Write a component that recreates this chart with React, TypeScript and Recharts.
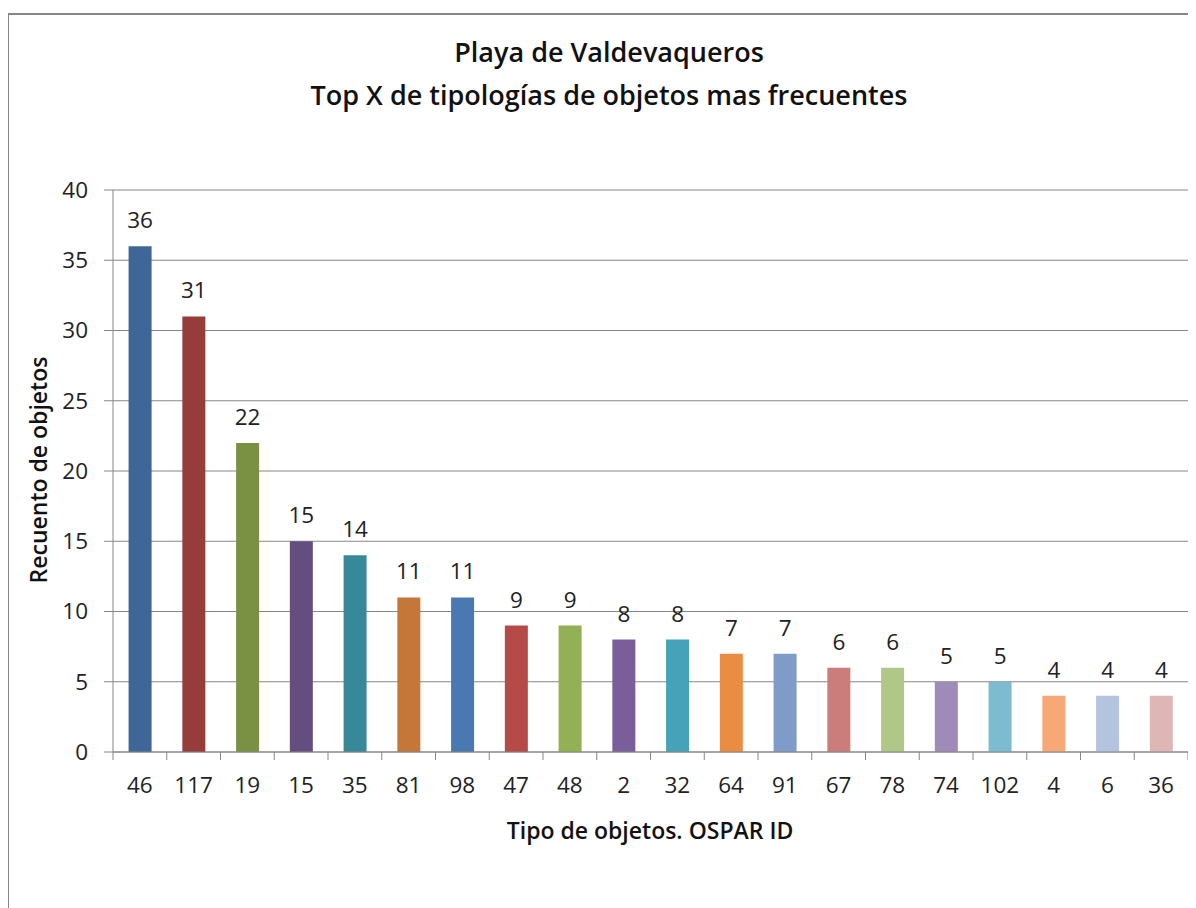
import React from "react";
import {
  BarChart,
  Bar,
  XAxis,
  YAxis,
  CartesianGrid,
  Cell,
  LabelList,
} from "recharts";

const ospar_ids = ["46", "117", "19", "15", "35", "81", "98", "47", "48", "2", "32", "64", "91", "67", "78", "74", "102", "4", "6", "36"];
const counts = [36, 31, 22, 15, 14, 11, 11, 9, 9, 8, 8, 7, 7, 6, 6, 5, 5, 4, 4, 4];
const y_ticks = [0, 5, 10, 15, 20, 25, 30, 35, 40];
const COLORS = [
  "#3E6697", "#963D3B", "#7A9143", "#644E7F", "#378899",
  "#C47738", "#4A78B0", "#B64A48", "#93B055", "#7A5E9B",
  "#46A2B8", "#E88D42", "#7F9CC9", "#CB7D7C", "#AFC888",
  "#9F8BB8", "#7DBBD0", "#F6A877", "#B4C3DE", "#DEB6B5",
];

const data = ospar_ids.map((id, i) => ({ name: id, value: counts[i] }));

const W = 1200;
const H = 895;
const M = { top: 175, right: 21, bottom: 98, left: 44 };
const Y_W = 60;
const STEP = (W - M.left - M.right - Y_W) / ospar_ids.length;
const FONT = "'Open Sans', sans-serif";
const AXIS = "#868686";

const XTick = (props: any) => {
  const { x, y, payload, index } = props;
  return (
    <g>
      <line x1={x - STEP / 2} x2={x - STEP / 2} y1={y} y2={y + 8} stroke={AXIS} />
      {index === ospar_ids.length - 1 && (
        <line x1={x + STEP / 2} x2={x + STEP / 2} y1={y} y2={y + 8} stroke={AXIS} />
      )}
      <text x={x} y={y + 41} textAnchor="middle" fontSize={22.5} fill="#222" fontFamily={FONT}>
        {payload.value}
      </text>
    </g>
  );
};

const App: React.FC = () => {
  return (
    <div
      style={{
        position: "relative",
        marginTop: 5,
        marginLeft: -1,
        width: W,
        height: H,
        border: "2px solid #878787",
        fontFamily: FONT,
        color: "#111",
      }}
    >
      <div style={{ position: "absolute", left: 0, width: W, top: 15, textAlign: "center", fontWeight: 600, fontSize: 27, lineHeight: "43px" }}>
        <div>Playa de Valdevaqueros</div>
        <div>Top X de tipologías de objetos mas frecuentes</div>
      </div>
      <div
        style={{
          position: "absolute",
          left: 29,
          top: 455,
          transform: "translate(-50%, -50%) rotate(-90deg)",
          whiteSpace: "nowrap",
          fontWeight: 600,
          fontSize: 23,
        }}
      >
        Recuento de objetos
      </div>
      <div
        style={{
          position: "absolute",
          left: 641,
          top: 815,
          transform: "translate(-50%, -50%)",
          whiteSpace: "nowrap",
          fontWeight: 600,
          fontSize: 23,
        }}
      >
        Tipo de objetos. OSPAR ID
      </div>
      <BarChart width={W} height={H} data={data} margin={M} barCategoryGap="29%">
        <CartesianGrid vertical={false} stroke={AXIS} />
        <XAxis
          dataKey="name"
          axisLine={{ stroke: AXIS }}
          tickLine={false}
          tickSize={0}
          tickMargin={0}
          height={60}
          interval={0}
          tick={<XTick />}
        />
        <YAxis
          width={Y_W}
          domain={[0, 40]}
          ticks={y_ticks}
          interval={0}
          axisLine={{ stroke: AXIS }}
          tickLine={{ stroke: AXIS }}
          tickSize={9}
          tickMargin={16}
          tick={{ fontSize: 22.5, fill: "#222", fontFamily: FONT }}
        />
        <Bar dataKey="value" isAnimationActive={false}>
          {data.map((d, i) => (
            <Cell key={d.name + i} fill={COLORS[i]} />
          ))}
          <LabelList dataKey="value" position="top" offset={18} fontSize={22.5} fill="#222" fontFamily={FONT} />
        </Bar>
      </BarChart>
    </div>
  );
};

export default App;
